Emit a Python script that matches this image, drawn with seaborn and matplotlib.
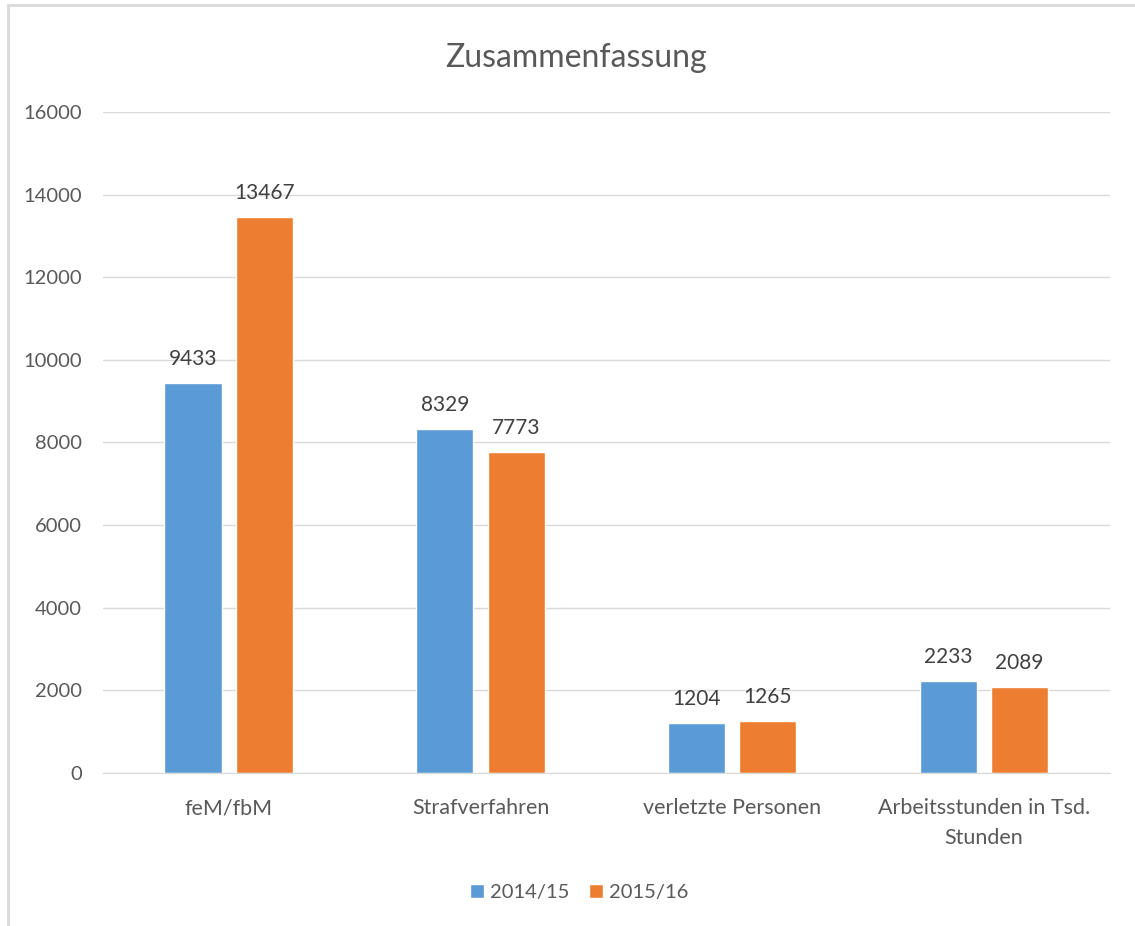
import pandas as pd
import seaborn as sns
import matplotlib.pyplot as plt
from matplotlib.lines import Line2D

categories = ["feM/fbM", "Strafverfahren", "verletzte Personen", "Arbeitsstunden in Tsd.\nStunden"]
years = ["2014/15", "2015/16"]
values_1415 = [9433, 8329, 1204, 2233]
values_1516 = [13467, 7773, 1265, 2089]
yticks = [0, 2000, 4000, 6000, 8000, 10000, 12000, 14000, 16000]

df = pd.DataFrame({
    "Kategorie": categories * 2,
    "Jahr": [years[0]] * 4 + [years[1]] * 4,
    "Wert": values_1415 + values_1516,
})

sns.set_style("white")
plt.rcParams["font.family"] = ["Lato", "DejaVu Sans"]
txt = "#595959"

fig = plt.figure(figsize=(11.35, 9.26), dpi=100)
ax = fig.add_axes([0.0907, 0.1652, 0.887, 0.714])

sns.barplot(data=df, x="Kategorie", y="Wert", hue="Jahr",
            palette=["#5B9BD5", "#ED7D31"], width=0.568, gap=0.2,
            saturation=1, ax=ax)

for c in ax.containers:
    ax.bar_label(c, padding=10, fontsize=15, color="#404040")

ax.set_ylim(0, 16000)
ax.set_yticks(yticks)
ax.set_yticklabels([str(t) for t in yticks])
ax.grid(axis="y", color="#d9d9d9", linewidth=1)
ax.set_axisbelow(True)
for s in ["top", "right", "left"]:
    ax.spines[s].set_visible(False)
ax.spines["bottom"].set_color("#d9d9d9")
ax.tick_params(axis="both", length=0, colors=txt)
ax.tick_params(axis="y", pad=15, labelsize=14.5)
ax.tick_params(axis="x", pad=18, labelsize=15.5)
for lab in ax.get_xticklabels():
    lab.set_linespacing(1.6)
ax.set_xlabel("")
ax.set_ylabel("")

ax.legend(loc="upper center", bbox_to_anchor=(0.473, -0.14), ncol=2, frameon=False,
          fontsize=14.5, labelcolor=txt, handlelength=0.7, handleheight=0.7,
          handletextpad=0.3, columnspacing=1.0)

fig.text(0.507, 0.937, "Zusammenfassung", ha="center", va="center", fontsize=23, color=txt)

# chart border
fig.add_artist(Line2D([0.007, 0.007], [0, 0.995], color="#d9d9d9", lw=2))
fig.add_artist(Line2D([0.007, 1], [0.995, 0.995], color="#d9d9d9", lw=2))

fig.savefig("out.png", dpi=100)
